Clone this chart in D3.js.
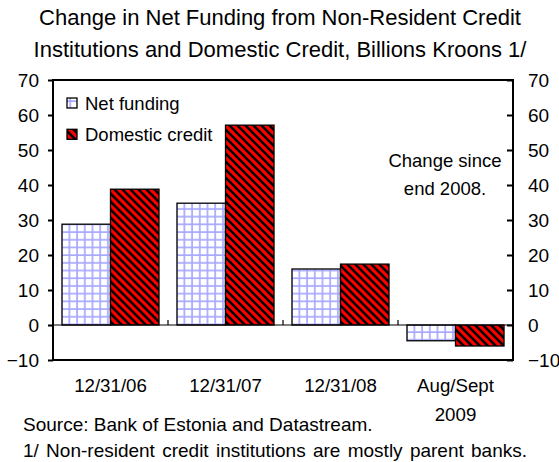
<!DOCTYPE html>
<html>
<head>
<meta charset="utf-8">
<script src="https://cdn.jsdelivr.net/npm/d3@7"></script>
<style>
  body { margin: 0; background: #fff; }
  text { font-family: Arial, "Liberation Sans", sans-serif; fill: #000; }
</style>
</head>
<body>
<div id="chart"></div>
<script>
// chart data
const categories = ["12/31/06", "12/31/07", "12/31/08", "Aug/Sept"];
const categoryLines = [["12/31/06"], ["12/31/07"], ["12/31/08"], ["Aug/Sept", "2009"]];
const seriesNames = ["Net funding", "Domestic credit"];
const netFunding = [28.8, 34.8, 16.0, -4.5];
const domesticCredit = [38.8, 57.1, 17.4, -6.0];
const yTicks = [-10, 0, 10, 20, 30, 40, 50, 60, 70];
const titleLines = ["Change in Net Funding from Non-Resident Credit",
                    "Institutions and Domestic Credit, Billions Kroons 1/"];
const noteLines = ["Change since", "end 2008."];
const sourceText = "Source: Bank of Estonia and Datastream.";
const footText = "1/ Non-resident credit institutions are mostly parent banks.";

const W = 559, H = 462;
const plot = { left: 53, right: 513, top: 80, bottom: 360 };

const svg = d3.select("#chart")
    .append("svg")
    .attr("width", W)
    .attr("height", H);

// patterns for the two series
const defs = svg.append("defs");
const grid = defs.append("pattern")
    .attr("id", "gridFill")
    .attr("patternUnits", "userSpaceOnUse")
    .attr("width", 7.7)
    .attr("height", 7.7);
grid.append("rect").attr("width", 7.7).attr("height", 7.7).attr("fill", "#fff");
grid.append("path")
    .attr("d", "M1,0V7.7M0,1H7.7")
    .attr("stroke", "#a8a8ff")
    .attr("stroke-width", 1.7);

const stripes = defs.append("pattern")
    .attr("id", "stripeFill")
    .attr("patternUnits", "userSpaceOnUse")
    .attr("width", 8)
    .attr("height", 8);
stripes.append("rect").attr("width", 8).attr("height", 8).attr("fill", "#ff0000");
stripes.append("path")
    .attr("d", "M-2,-2L10,10M-2,6L2,10M6,-2L10,2")
    .attr("stroke", "#000")
    .attr("stroke-width", 2.5);

const fills = ["url(#gridFill)", "url(#stripeFill)"];

// scales
const x0 = d3.scaleBand().domain(categories).range([plot.left, plot.right]).padding(0);
const x1 = d3.scaleBand().domain(seriesNames).range([0, x0.bandwidth()])
    .paddingInner(0).paddingOuter(0.185);
const y = d3.scaleLinear().domain([-10, 70]).range([plot.bottom, plot.top]);

const rows = categories.map((c, i) => ({
    category: c,
    values: [
        { name: seriesNames[0], value: netFunding[i] },
        { name: seriesNames[1], value: domesticCredit[i] }
    ]
}));

// bars
const groups = svg.append("g").selectAll("g")
    .data(rows)
    .join("g")
    .attr("transform", d => `translate(${x0(d.category)},0)`);

groups.selectAll("rect")
    .data(d => d.values)
    .join("rect")
    .attr("x", d => x1(d.name))
    .attr("y", d => y(Math.max(0, d.value)))
    .attr("width", x1.bandwidth())
    .attr("height", d => Math.abs(y(d.value) - y(0)))
    .attr("fill", (d, i) => fills[i])
    .attr("stroke", "#000")
    .attr("stroke-width", 1.3);

// zero line with category ticks
svg.append("line")
    .attr("x1", plot.left).attr("x2", plot.right)
    .attr("y1", y(0)).attr("y2", y(0))
    .attr("stroke", "#000").attr("stroke-width", 1.2);

svg.append("g").selectAll("line")
    .data(categories.slice(1))
    .join("line")
    .attr("x1", d => x0(d)).attr("x2", d => x0(d))
    .attr("y1", y(0)).attr("y2", y(0) - 5)
    .attr("stroke", "#000").attr("stroke-width", 1.2);

// frame
svg.append("rect")
    .attr("x", plot.left).attr("y", plot.top)
    .attr("width", plot.right - plot.left)
    .attr("height", plot.bottom - plot.top)
    .attr("fill", "none")
    .attr("stroke", "#000")
    .attr("stroke-width", 2);

// left axis
const leftAxis = svg.append("g")
    .attr("transform", `translate(${plot.left},0)`)
    .call(d3.axisLeft(y).tickValues(yTicks).tickSize(5).tickPadding(9));
leftAxis.select(".domain").remove();
leftAxis.selectAll("line").attr("stroke-width", 2);
leftAxis.selectAll("text")
    .style("font-size", "19px")
    .style("font-family", "Arial, 'Liberation Sans', sans-serif");

// right axis, ticks point inwards
const rightAxis = svg.append("g")
    .attr("transform", `translate(${plot.right},0)`)
    .call(d3.axisRight(y).tickValues(yTicks).tickSize(0).tickPadding(15));
rightAxis.select(".domain").remove();
rightAxis.selectAll(".tick").append("line")
    .attr("x1", -6).attr("x2", 0)
    .attr("stroke", "#000").attr("stroke-width", 2);
rightAxis.selectAll("text")
    .style("font-size", "19px")
    .style("font-family", "Arial, 'Liberation Sans', sans-serif");

// category labels
const catLabels = svg.append("g").selectAll("text")
    .data(categories)
    .join("text")
    .attr("x", d => x0(d) + x0.bandwidth() / 2)
    .attr("y", 392)
    .attr("text-anchor", "middle")
    .style("font-size", "18.7px");
catLabels.selectAll("tspan")
    .data((d, i) => categoryLines[i])
    .join("tspan")
    .attr("x", function () { return this.parentNode.getAttribute("x"); })
    .attr("dy", (d, i) => i === 0 ? 0 : 28.5)
    .text(d => d);

// legend
const legend = svg.append("g");
seriesNames.forEach((name, i) => {
    const cy = 103 + i * 31.3;
    legend.append("rect")
        .attr("x", 67).attr("y", cy - 5)
        .attr("width", 10).attr("height", 10)
        .attr("fill", fills[i])
        .attr("stroke", "#000").attr("stroke-width", 1.3);
    legend.append("text")
        .attr("x", 85).attr("y", cy + 6.5)
        .style("font-size", "18.5px")
        .text(name);
});

// note inside the plot
svg.append("g").selectAll("text")
    .data(noteLines)
    .join("text")
    .attr("x", 445)
    .attr("y", (d, i) => 167 + i * 28)
    .attr("text-anchor", "middle")
    .style("font-size", "18.5px")
    .text(d => d);

// title
svg.append("g").selectAll("text")
    .data(titleLines)
    .join("text")
    .attr("x", 280)
    .attr("y", (d, i) => 25 + i * 31.5)
    .attr("text-anchor", "middle")
    .style("font-size", "22px")
    .text(d => d);

// source and footnote
svg.append("text")
    .attr("x", 23).attr("y", 431)
    .style("font-size", "19px")
    .text(sourceText);
svg.append("text")
    .attr("x", 23).attr("y", 457)
    .style("font-size", "19px")
    .style("word-spacing", "2px")
    .text(footText);
</script>
</body>
</html>
